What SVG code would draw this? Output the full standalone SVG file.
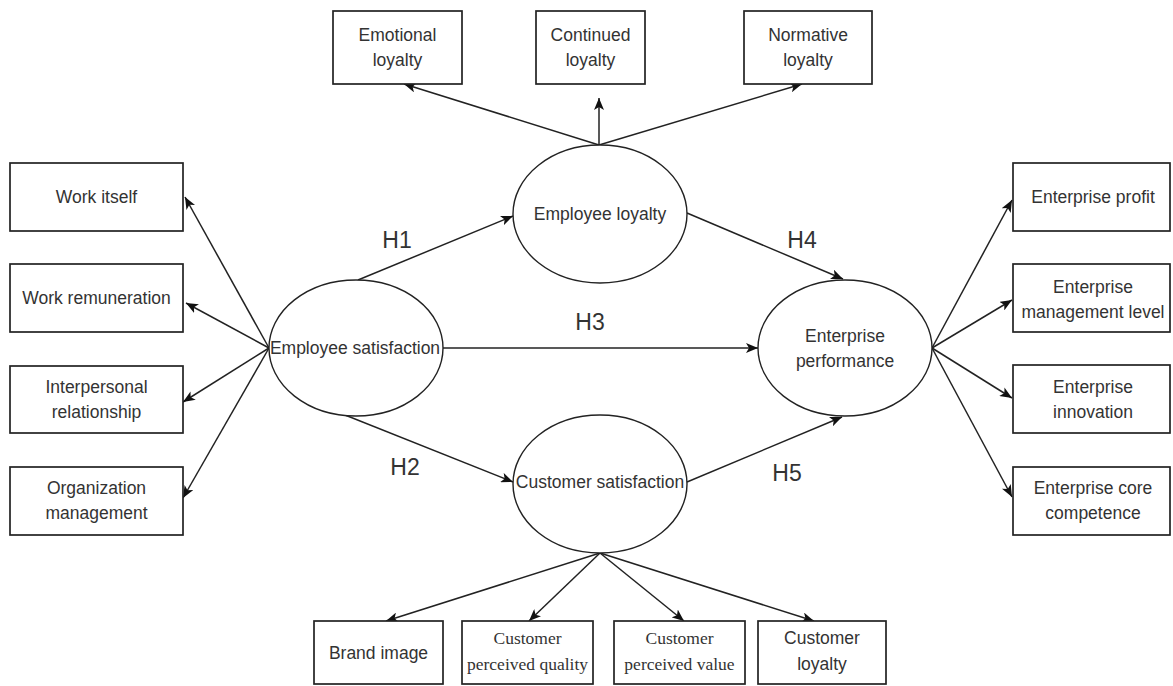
<svg xmlns="http://www.w3.org/2000/svg" width="1173" height="686" viewBox="0 0 1173 686">
<style>
.box{fill:#fff;stroke:#222;stroke-width:1.7}
.ell{fill:#fff;stroke:#222;stroke-width:1.4}
.t{font-family:"Liberation Sans",Arial,sans-serif;font-size:17.5px;fill:#333;text-anchor:middle;dominant-baseline:central}
.s{font-family:"Liberation Serif","Times New Roman",serif;font-size:17.5px;fill:#333;text-anchor:middle;dominant-baseline:central}
.h{font-family:"Liberation Sans",Arial,sans-serif;font-size:23px;fill:#333;text-anchor:middle;dominant-baseline:central}
.c line{stroke:#222;stroke-width:1.5;marker-end:url(#ah)}
</style>
<defs>
<marker id="ah" viewBox="0 0 12 10" refX="12" refY="5" markerWidth="12" markerHeight="10" markerUnits="userSpaceOnUse" orient="auto">
<path d="M0,0 L12,5 L0,10 L3,5 z" fill="#111"/>
</marker>
</defs>
<rect width="1173" height="686" fill="#fff"/>

<g id="connectors" class="c">
<line x1="269" y1="348" x2="185" y2="197"/>
<line x1="269" y1="348" x2="186" y2="303"/>
<line x1="269" y1="348" x2="183" y2="402"/>
<line x1="269" y1="348" x2="183" y2="498"/>
<line x1="599" y1="145" x2="404" y2="84"/>
<line x1="599" y1="145" x2="599" y2="98"/>
<line x1="599" y1="145" x2="802" y2="84"/>
<line x1="358" y1="280" x2="513" y2="216"/>
<line x1="340" y1="413" x2="513" y2="482"/>
<line x1="443" y1="348" x2="758" y2="348"/>
<line x1="687" y1="213" x2="843" y2="279"/>
<line x1="687" y1="482" x2="842" y2="417"/>
<line x1="932" y1="348" x2="1012" y2="200"/>
<line x1="932" y1="348" x2="1012" y2="300"/>
<line x1="932" y1="348" x2="1012" y2="398"/>
<line x1="932" y1="348" x2="1012" y2="497"/>
<line x1="600" y1="553" x2="386" y2="621"/>
<line x1="600" y1="553" x2="529" y2="621"/>
<line x1="600" y1="553" x2="684" y2="621"/>
<line x1="600" y1="553" x2="814" y2="621"/>
</g>

<g id="labels">
<text class="h" x="397" y="240">H1</text>
<text class="h" x="405" y="467">H2</text>
<text class="h" x="590" y="322">H3</text>
<text class="h" x="802" y="240">H4</text>
<text class="h" x="787" y="473">H5</text>
</g>

<g id="employee-satisfaction"><ellipse class="ell" cx="356" cy="348" rx="87" ry="68"/><text class="t" x="355" y="348">Employee satisfaction</text></g>
<g id="employee-loyalty"><ellipse class="ell" cx="600" cy="214" rx="87" ry="69"/><text class="t" x="600" y="214">Employee loyalty</text></g>
<g id="customer-satisfaction"><ellipse class="ell" cx="600" cy="484" rx="87" ry="69"/><text class="t" x="600" y="482">Customer satisfaction</text></g>
<g id="enterprise-performance"><ellipse class="ell" cx="845" cy="348" rx="87" ry="68"/><text class="t" x="845" y="336">Enterprise</text><text class="t" x="845" y="361">performance</text></g>

<g id="work-itself"><rect class="box" x="10" y="163" width="173" height="68"/><text class="t" x="96.5" y="197">Work itself</text></g>
<g id="work-remuneration"><rect class="box" x="10" y="264" width="173" height="68"/><text class="t" x="96.5" y="298">Work remuneration</text></g>
<g id="interpersonal-relationship"><rect class="box" x="10" y="366" width="173" height="67"/><text class="t" x="96.5" y="387">Interpersonal</text><text class="t" x="96.5" y="412">relationship</text></g>
<g id="organization-management"><rect class="box" x="10" y="467" width="173" height="68"/><text class="t" x="96.5" y="488">Organization</text><text class="t" x="96.5" y="513">management</text></g>

<g id="emotional-loyalty"><rect class="box" x="333" y="11" width="129" height="73"/><text class="t" x="397.5" y="35">Emotional</text><text class="t" x="397.5" y="60">loyalty</text></g>
<g id="continued-loyalty"><rect class="box" x="536" y="11" width="109" height="73"/><text class="t" x="590.5" y="35">Continued</text><text class="t" x="590.5" y="60">loyalty</text></g>
<g id="normative-loyalty"><rect class="box" x="744" y="11" width="128" height="73"/><text class="t" x="808" y="35">Normative</text><text class="t" x="808" y="60">loyalty</text></g>

<g id="enterprise-profit"><rect class="box" x="1013" y="163" width="157" height="68"/><text class="t" x="1093" y="197">Enterprise profit</text></g>
<g id="enterprise-management-level"><rect class="box" x="1013" y="264" width="157" height="68"/><text class="t" x="1093" y="287">Enterprise</text><text class="t" x="1093" y="312">management level</text></g>
<g id="enterprise-innovation"><rect class="box" x="1013" y="365" width="157" height="68"/><text class="t" x="1093" y="387">Enterprise</text><text class="t" x="1093" y="412">innovation</text></g>
<g id="enterprise-core-competence"><rect class="box" x="1013" y="467" width="157" height="68"/><text class="t" x="1093" y="488">Enterprise core</text><text class="t" x="1093" y="513">competence</text></g>

<g id="brand-image"><rect class="box" x="314" y="621" width="129" height="63"/><text class="t" x="378.5" y="653">Brand image</text></g>
<g id="customer-perceived-quality"><rect class="box" x="462" y="621" width="131" height="63"/><text class="s" x="527.5" y="638">Customer</text><text class="s" x="527.5" y="664">perceived quality</text></g>
<g id="customer-perceived-value"><rect class="box" x="614" y="621" width="131" height="63"/><text class="s" x="679.5" y="638">Customer</text><text class="s" x="679.5" y="664">perceived value</text></g>
<g id="customer-loyalty"><rect class="box" x="758" y="621" width="128" height="63"/><text class="t" x="822" y="638">Customer</text><text class="t" x="822" y="664">loyalty</text></g>
</svg>
